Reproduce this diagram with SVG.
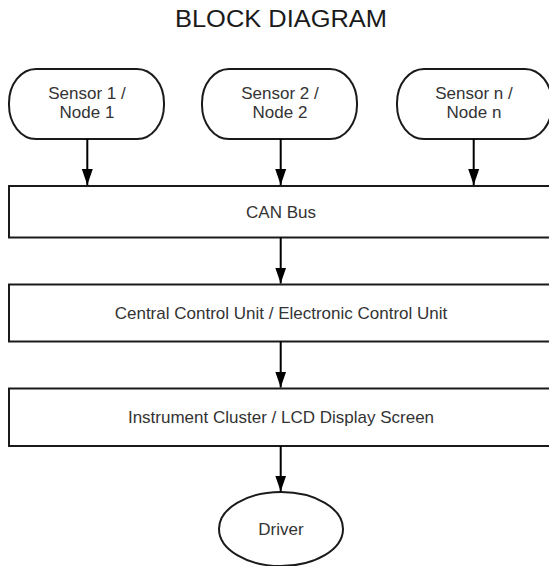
<svg xmlns="http://www.w3.org/2000/svg" width="549" height="566" viewBox="0 0 549 566">
  <style>
    .shape { fill: #ffffff; stroke: #1a1a1a; stroke-width: 2; }
    .label { font-family: "Liberation Sans", Arial, sans-serif; font-size: 17px; fill: #333333; text-anchor: middle; }
    .title { font-family: "Liberation Sans", Arial, sans-serif; font-size: 23px; fill: #1a1a1a; text-anchor: middle; }
    .link { stroke: #000000; stroke-width: 2; fill: none; marker-end: url(#arrow); }
  </style>
  <defs>
    <!-- filled triangular arrowhead, tip at the line end -->
    <marker id="arrow" markerUnits="userSpaceOnUse" markerWidth="17" markerHeight="12" refX="16" refY="6" orient="auto" viewBox="0 0 17 12">
      <path d="M0,0.5 L16,6 L0,11.5 Z" fill="#000000"/>
    </marker>
  </defs>

  <rect width="549" height="566" fill="#ffffff"/>

  <text class="title" x="281" y="27" textLength="212" lengthAdjust="spacingAndGlyphs">BLOCK DIAGRAM</text>

  <!-- sensor nodes -->
  <g id="sensor1">
    <rect class="shape" x="9" y="69" width="155" height="70" rx="27" ry="34"/>
    <text class="label" x="87" y="98.5">Sensor 1 /</text>
    <text class="label" x="87" y="117.5">Node 1</text>
  </g>
  <g id="sensor2">
    <rect class="shape" x="202" y="69" width="155" height="70" rx="27" ry="34"/>
    <text class="label" x="280" y="98.5">Sensor 2 /</text>
    <text class="label" x="280" y="117.5">Node 2</text>
  </g>
  <g id="sensorN">
    <rect class="shape" x="397" y="69" width="155" height="70" rx="27" ry="34"/>
    <text class="label" x="474" y="98.5">Sensor n /</text>
    <text class="label" x="474" y="117.5">Node n</text>
  </g>

  <!-- stacked blocks -->
  <g id="canbus">
    <rect class="shape" x="9" y="186" width="560" height="51.5"/>
    <text class="label" x="281" y="218">CAN Bus</text>
  </g>
  <g id="ecu">
    <rect class="shape" x="9" y="284.5" width="560" height="57"/>
    <text class="label" x="281" y="319">Central Control Unit / Electronic Control Unit</text>
  </g>
  <g id="cluster">
    <rect class="shape" x="9" y="388.5" width="560" height="57.5"/>
    <text class="label" x="281" y="423">Instrument Cluster / LCD Display Screen</text>
  </g>
  <g id="driver">
    <ellipse class="shape" cx="281" cy="529" rx="62" ry="37"/>
    <text class="label" x="281" y="535">Driver</text>
  </g>

  <!-- connectors -->
  <g id="connectors">
    <line class="link" x1="87.3" y1="139" x2="87.3" y2="185"/>
    <line class="link" x1="280.7" y1="139" x2="280.7" y2="185"/>
    <line class="link" x1="473.7" y1="139" x2="473.7" y2="185"/>
    <line class="link" x1="280.7" y1="237.5" x2="280.7" y2="283.5"/>
    <line class="link" x1="280.7" y1="341.5" x2="280.7" y2="387.5"/>
    <line class="link" x1="280.7" y1="446" x2="280.7" y2="491.5"/>
  </g>
</svg>
